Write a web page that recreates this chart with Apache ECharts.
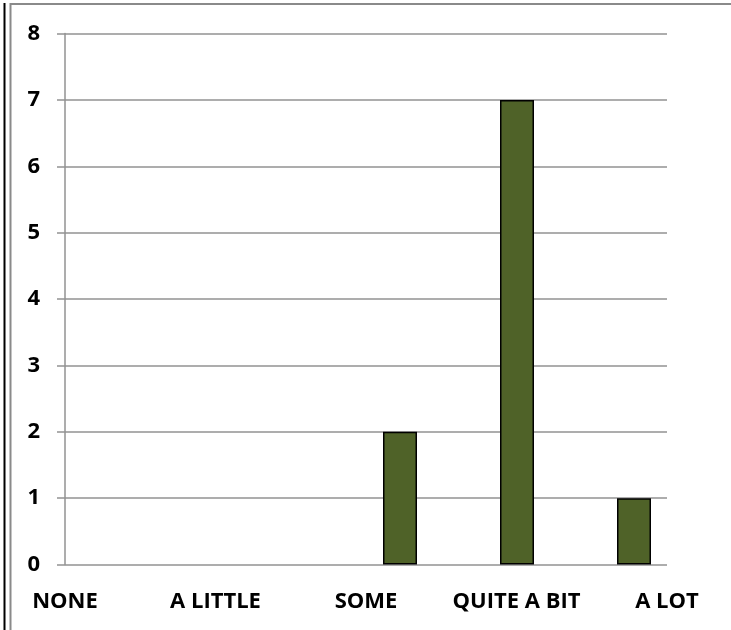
<!DOCTYPE html>
<html>
<head>
<meta charset="utf-8">
<script src="https://cdn.jsdelivr.net/npm/echarts@6/dist/echarts.min.js"></script>
<style>
  html, body { margin: 0; padding: 0; background: #fff; }
  #chart { width: 731px; height: 630px; }
</style>
</head>
<body>
<div id="chart"></div>
<script>
const categories = ["NONE", "A LITTLE", "SOME", "QUITE A BIT", "A LOT"];
const counts = [0, 0, 2, 7, 1];
const yMin = 0;
const yMax = 8;
const yStep = 1;

const chart = echarts.init(document.getElementById("chart"));
const labelFont = { fontFamily: "Open Sans", fontWeight: "bold", fontSize: 22, color: "#000" };

const option = {
  backgroundColor: "#fff",
  animation: false,
  graphic: [
    // chart frame
    { type: "line", shape: { x1: 4.5, y1: 3, x2: 4.5, y2: 630 }, style: { stroke: "#000", lineWidth: 2 } },
    { type: "polyline", shape: { points: [[10.5, 640], [10.5, 4], [740, 4]] }, style: { stroke: "#8a8a8a", lineWidth: 2, fill: null } }
  ],
  grid: [
    { left: 65, right: 64, top: 33.5, bottom: 65.5 },
    { left: 107.5, right: 38.5, top: 33.5, bottom: 65.5 }
  ],
  xAxis: [
    {
      gridIndex: 0,
      type: "category",
      data: categories,
      boundaryGap: false,
      axisLine: { show: false },
      axisTick: { show: false },
      axisLabel: Object.assign({ margin: 26, interval: 0 }, labelFont)
    },
    {
      gridIndex: 1,
      type: "category",
      data: categories,
      show: false
    }
  ],
  yAxis: [
    {
      gridIndex: 0,
      type: "value",
      min: yMin,
      max: yMax,
      interval: yStep,
      axisLine: { show: true, lineStyle: { color: "#929292", width: 1.5 } },
      axisTick: { show: true, length: 8, lineStyle: { color: "#929292", width: 1.5 } },
      splitLine: { show: true, lineStyle: { color: "#929292", width: 1.5 } },
      axisLabel: Object.assign({ margin: 25 }, labelFont)
    },
    {
      gridIndex: 1,
      type: "value",
      min: yMin,
      max: yMax,
      show: false
    }
  ],
  series: [
    {
      type: "bar",
      xAxisIndex: 1,
      yAxisIndex: 1,
      data: counts.map(v => (v === 0 ? null : v)),
      barWidth: 34,
      itemStyle: { color: "#4f6228", borderColor: "#000", borderWidth: 1.5 }
    }
  ]
};

chart.setOption(option);
</script>
</body>
</html>
